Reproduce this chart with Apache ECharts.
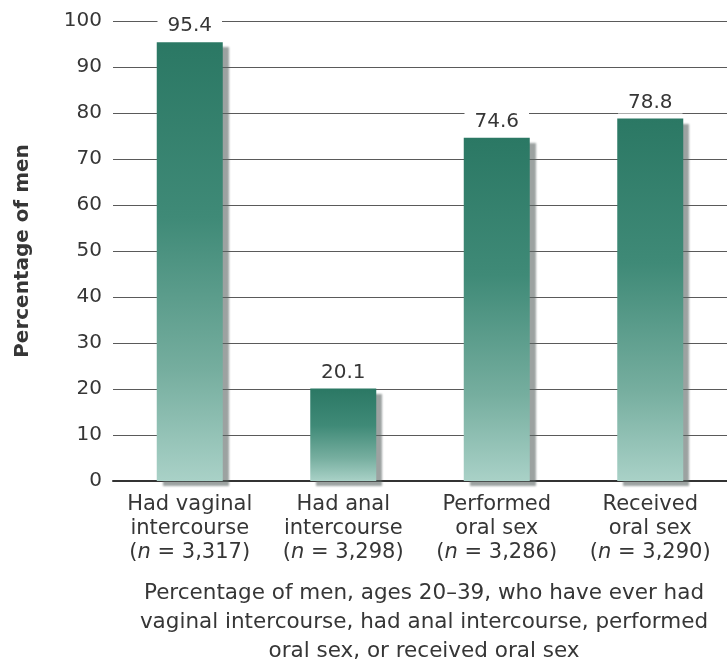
<!DOCTYPE html>
<html>
<head>
<meta charset="utf-8">
<script src="https://cdn.jsdelivr.net/npm/echarts@6/dist/echarts.min.js"></script>
<style>
  html, body { margin: 0; padding: 0; background: #fff; }
  #chart { width: 727px; height: 667px; }
</style>
</head>
<body>
<div id="chart"></div>
<script>
var categories = ["Had vaginal\nintercourse", "Had anal\nintercourse", "Performed\noral sex", "Received\noral sex"];
var sampleSizes = ["3,317", "3,298", "3,286", "3,290"];
var percentages = [95.4, 20.1, 74.6, 78.8];
var yTicks = [0, 10, 20, 30, 40, 50, 60, 70, 80, 90, 100];

var font = "DejaVu Sans, Liberation Sans, Arial, sans-serif";
var textColor = "#363636";

var chart = echarts.init(document.getElementById("chart"));
var option = {
  backgroundColor: "#fff",
  textStyle: { fontFamily: font, color: textColor },
  grid: { left: 113, width: 624, top: 21, bottom: 186 },
  xAxis: {
    type: "category",
    data: categories,
    axisLine: { lineStyle: { color: "#333", width: 2 } },
    axisTick: { show: false },
    axisLabel: {
      interval: 0,
      margin: 12,
      fontSize: 21,
      lineHeight: 24,
      color: textColor,
      fontFamily: font,
      formatter: function (v, i) {
        return v + "\n(" + "{i|n}" + " = " + sampleSizes[i] + ")";
      },
      rich: {
        i: { fontStyle: "italic", fontSize: 21, color: textColor, fontFamily: font, lineHeight: 24 }
      }
    }
  },
  yAxis: {
    type: "value",
    min: 0,
    max: 100,
    interval: 10,
    name: "Percentage of men",
    nameLocation: "middle",
    nameRotate: 90,
    nameGap: 80,
    nameTextStyle: { fontSize: 20, fontWeight: "bold", color: textColor, fontFamily: font },
    axisLine: { show: false },
    axisTick: { show: false },
    axisLabel: {
      fontSize: 20,
      color: textColor,
      margin: 11,
      formatter: function (v) { return yTicks.indexOf(v) >= 0 ? String(v) : ""; }
    },
    splitLine: { lineStyle: { color: "#5a5a5a", width: 1 } }
  },
  graphic: [{
    type: "text",
    x: 424,
    y: 579,
    style: {
      text: "Percentage of men, ages 20\u201339, who have ever had\nvaginal intercourse, had anal intercourse, performed\noral sex, or received oral sex",
      fontSize: 21.5,
      lineHeight: 29,
      fill: textColor,
      fontFamily: font,
      align: "center",
      verticalAlign: "top"
    }
  }],
  series: [{
    type: "bar",
    data: percentages,
    barWidth: 66,
    itemStyle: {
      color: new echarts.graphic.LinearGradient(0, 0, 0, 1, [
        { offset: 0, color: "#2b7864" },
        { offset: 0.4, color: "#3f8a77" },
        { offset: 0.75, color: "#76ae9f" },
        { offset: 1, color: "#a9d1c7" }
      ]),
      shadowColor: "rgba(90,100,98,0.6)",
      shadowOffsetX: 6,
      shadowOffsetY: 5,
      shadowBlur: 2
    },
    label: {
      show: true,
      position: "top",
      distance: 5,
      fontSize: 20,
      color: textColor,
      fontFamily: font,
      backgroundColor: "#fff",
      padding: [1, 10],
      formatter: function (p) { return p.value.toFixed(1); }
    }
  }]
};
chart.setOption(option);
</script>
</body>
</html>
